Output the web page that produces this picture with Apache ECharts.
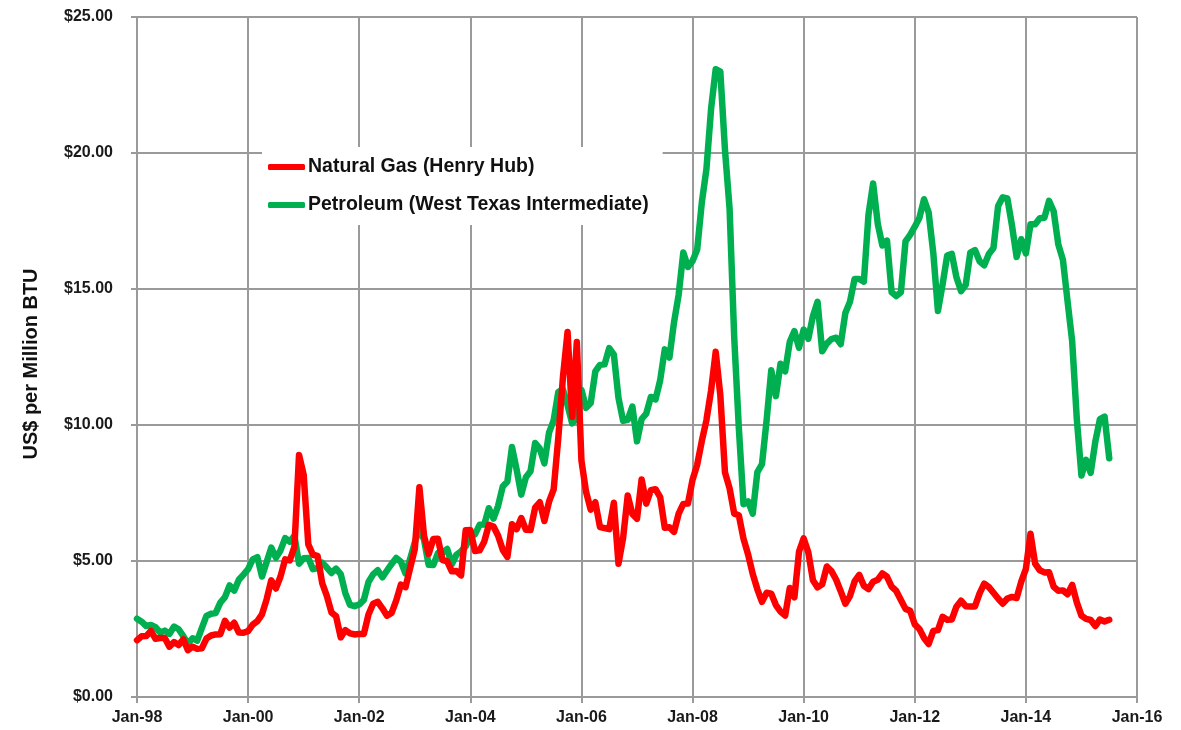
<!DOCTYPE html>
<html>
<head>
<meta charset="utf-8">
<script src="https://cdn.jsdelivr.net/npm/echarts@6/dist/echarts.min.js"></script>
<style>html,body{margin:0;padding:0;background:#fff;}#c{width:1181px;height:730px;}</style>
</head>
<body>
<div id="c"></div>
<script>
// Monthly values, Jan 1998 .. Jul 2015, US$ per Million BTU
const naturalGas = [
  2.09, 2.23, 2.24, 2.43, 2.14, 2.17, 2.17, 1.85, 2.02, 1.91, 2.12, 1.72,
  1.85, 1.77, 1.79, 2.15, 2.26, 2.30, 2.31, 2.80, 2.55, 2.73, 2.37, 2.36,
  2.42, 2.66, 2.79, 3.04, 3.59, 4.29, 3.99, 4.43, 5.06, 5.02, 5.52, 8.90,
  8.17, 5.61, 5.23, 5.19, 4.19, 3.72, 3.11, 2.97, 2.19, 2.46, 2.34, 2.30,
  2.32, 2.32, 3.03, 3.43, 3.50, 3.26, 2.99, 3.09, 3.55, 4.13, 4.04, 4.74,
  5.43, 7.71, 5.93, 5.26, 5.81, 5.82, 5.03, 4.99, 4.62, 4.63, 4.47, 6.13,
  6.14, 5.37, 5.39, 5.71, 6.33, 6.27, 5.93, 5.41, 5.15, 6.35, 6.17, 6.58,
  6.15, 6.14, 6.96, 7.16, 6.47, 7.18, 7.63, 9.53, 11.75, 13.42, 10.30, 13.05,
  8.69, 7.54, 6.89, 7.16, 6.25, 6.21, 6.17, 7.14, 4.90, 5.85, 7.41, 6.73,
  6.55, 8.00, 7.11, 7.60, 7.64, 7.35, 6.22, 6.24, 6.07, 6.74, 7.10, 7.11,
  7.99, 8.54, 9.41, 10.18, 11.27, 12.69, 11.09, 8.26, 7.67, 6.74, 6.68, 5.82,
  5.24, 4.52, 3.96, 3.50, 3.83, 3.80, 3.38, 3.14, 2.99, 4.01, 3.66, 5.35,
  5.83, 5.32, 4.29, 4.03, 4.14, 4.80, 4.63, 4.32, 3.89, 3.43, 3.71, 4.25,
  4.49, 4.09, 3.97, 4.24, 4.31, 4.54, 4.42, 4.06, 3.90, 3.57, 3.24, 3.17,
  2.67, 2.50, 2.17, 1.95, 2.43, 2.46, 2.95, 2.84, 2.85, 3.32, 3.54, 3.34,
  3.33, 3.33, 3.81, 4.17, 4.04, 3.83, 3.62, 3.43, 3.62, 3.68, 3.64, 4.24,
  4.71, 6.00, 4.90, 4.66, 4.58, 4.59, 4.05, 3.91, 3.92, 3.78, 4.12, 3.48,
  2.99, 2.87, 2.83, 2.61, 2.85, 2.78, 2.84
];
const petroleum = [
  2.88, 2.77, 2.61, 2.65, 2.57, 2.37, 2.44, 2.32, 2.59, 2.49, 2.24, 1.96,
  2.16, 2.07, 2.53, 2.98, 3.06, 3.09, 3.47, 3.67, 4.10, 3.91, 4.31, 4.50,
  4.70, 5.06, 5.14, 4.43, 4.96, 5.49, 5.12, 5.39, 5.84, 5.71, 5.93, 4.90,
  5.10, 5.11, 4.70, 4.74, 4.94, 4.76, 4.56, 4.72, 4.52, 3.82, 3.39, 3.34,
  3.40, 3.57, 4.23, 4.51, 4.66, 4.40, 4.65, 4.89, 5.11, 4.97, 4.54, 5.08,
  5.68, 6.18, 5.78, 4.86, 4.85, 5.29, 5.30, 5.44, 4.88, 5.23, 5.36, 5.54,
  5.92, 5.98, 6.33, 6.34, 6.94, 6.56, 7.03, 7.74, 7.92, 9.19, 8.36, 7.44,
  8.08, 8.30, 9.34, 9.13, 8.59, 9.72, 10.17, 11.21, 11.31, 10.73, 10.06, 10.24,
  11.29, 10.63, 10.81, 11.97, 12.21, 12.23, 12.83, 12.59, 11.00, 10.15, 10.19, 10.68,
  9.40, 10.22, 10.42, 11.03, 10.94, 11.64, 12.78, 12.48, 13.78, 14.79, 16.34, 15.81,
  16.03, 16.45, 18.18, 19.41, 21.62, 23.08, 22.99, 20.12, 17.95, 13.21, 9.88, 7.09,
  7.19, 6.74, 8.27, 8.56, 10.18, 12.01, 11.06, 12.25, 11.97, 13.06, 13.45, 12.84,
  13.51, 13.17, 14.00, 14.53, 12.71, 12.99, 13.16, 13.21, 12.97, 14.12, 14.53, 15.37,
  15.37, 15.27, 17.73, 18.88, 17.40, 16.60, 16.78, 14.88, 14.74, 14.88, 16.75, 16.99,
  17.29, 17.62, 18.30, 17.81, 16.32, 14.19, 15.16, 16.23, 16.29, 15.43, 14.92, 15.15,
  16.34, 16.43, 16.02, 15.87, 16.29, 16.51, 18.05, 18.37, 18.33, 17.33, 16.18, 16.83,
  16.31, 17.38, 17.38, 17.60, 17.62, 18.24, 17.86, 16.64, 16.07, 14.55, 13.07, 10.22,
  8.14, 8.72, 8.24, 9.39, 10.22, 10.31, 8.78
];
const xTickLabels = ['Jan-98','Jan-00','Jan-02','Jan-04','Jan-06','Jan-08','Jan-10','Jan-12','Jan-14','Jan-16'];
const yTickLabels = ['$0.00','$5.00','$10.00','$15.00','$20.00','$25.00'];
const seriesNames = ['Natural Gas (Henry Hub)', 'Petroleum (West Texas Intermediate)'];
const yAxisTitle = 'US$ per Million BTU';

const gridColor = '#9a9a9a';
const chart = echarts.init(document.getElementById('c'), null, {renderer: 'canvas'});
const toPts = arr => arr.map((v, i) => [i, v]);
const tickFont = {fontFamily: "'Liberation Sans', Arial, sans-serif", fontWeight: 'bold', fontSize: 16, color: '#1a1a1a'};

chart.setOption({
  animation: false,
  backgroundColor: '#ffffff',
  grid: {left: 137, right: 44, top: 17, bottom: 33, containLabel: false},
  legend: {
    orient: 'vertical',
    left: 262, top: 147,
    backgroundColor: '#ffffff',
    padding: [10, 14, 10, 6],
    itemWidth: 37, itemHeight: 6, itemGap: 18,
    icon: 'roundRect',
    z: 10,
    data: seriesNames,
    textStyle: {fontFamily: "'Liberation Sans', Arial, sans-serif", fontWeight: 'bold', fontSize: 19.5, color: '#111', padding: [0, 0, 0, -2]}
  },
  xAxis: {
    type: 'value', min: 0, max: 216, interval: 24,
    axisLine: {show: true, lineStyle: {color: gridColor, width: 2}},
    axisTick: {show: true, length: 6, lineStyle: {color: gridColor, width: 2}},
    axisLabel: Object.assign({margin: 13, formatter: v => xTickLabels[Math.round(v / 24)]}, tickFont),
    splitLine: {show: true, lineStyle: {color: gridColor, width: 2}}
  },
  yAxis: {
    type: 'value', min: 0, max: 25, interval: 5,
    name: yAxisTitle, nameLocation: 'middle', nameGap: 96,
    nameTextStyle: {fontFamily: "'Liberation Sans', Arial, sans-serif", fontWeight: 'bold', fontSize: 20, color: '#111', padding: [0, 0, 0, -14]},
    axisLine: {show: true, lineStyle: {color: gridColor, width: 2}},
    axisTick: {show: true, length: 6, lineStyle: {color: gridColor, width: 2}},
    axisLabel: Object.assign({margin: 24, formatter: v => yTickLabels[Math.round(v / 5)]}, tickFont),
    splitLine: {show: true, lineStyle: {color: gridColor, width: 2}}
  },
  series: [
    {
      name: seriesNames[0], type: 'line', data: toPts(naturalGas),
      showSymbol: false, symbol: 'none', z: 4,
      itemStyle: {color: '#ff0000'},
      lineStyle: {color: '#ff0000', width: 6.5, join: 'round', cap: 'round'}
    },
    {
      name: seriesNames[1], type: 'line', data: toPts(petroleum),
      showSymbol: false, symbol: 'none', z: 3,
      itemStyle: {color: '#00b050'},
      lineStyle: {color: '#00b050', width: 6.5, join: 'round', cap: 'round'}
    }
  ]
});
</script>
</body>
</html>
